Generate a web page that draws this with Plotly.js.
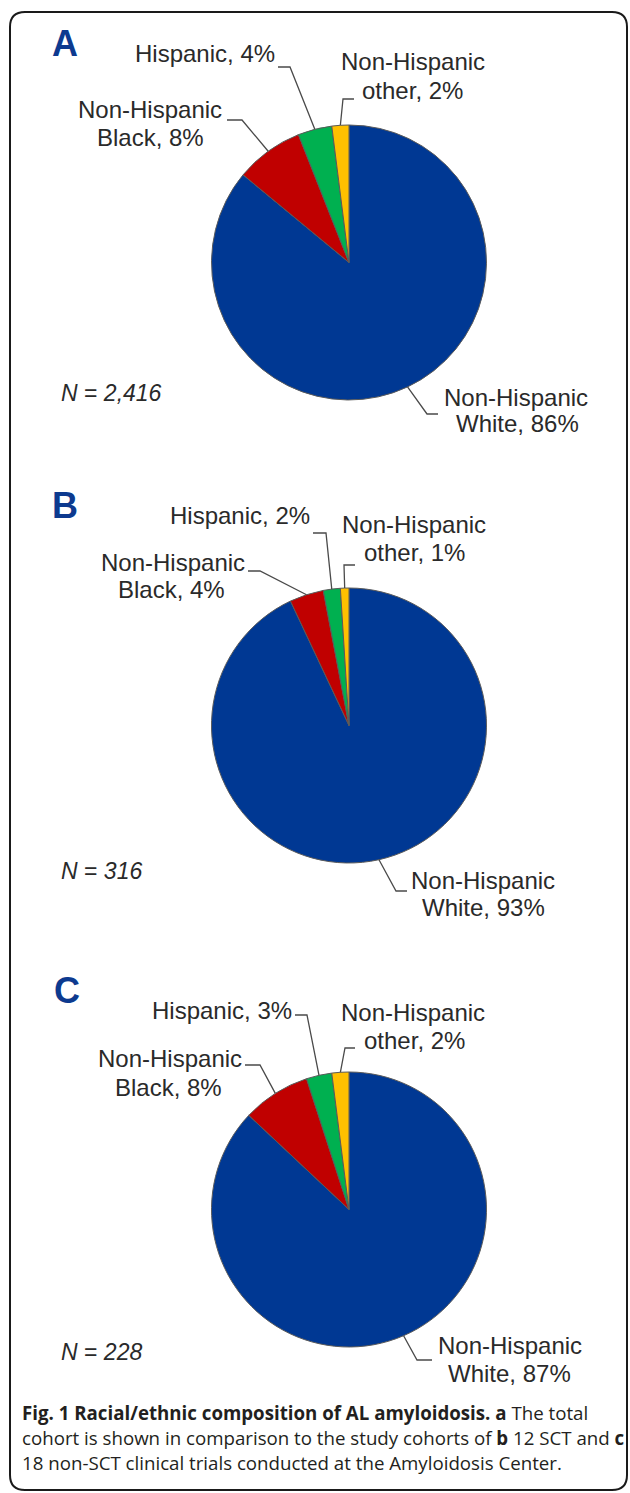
<!DOCTYPE html>
<html><head><meta charset="utf-8">
<script src="https://cdn.plot.ly/plotly-3.0.1.min.js"></script>
<style>html,body{margin:0;padding:0;background:#fff}</style>
</head><body><div id="chart" style="width:630px;height:1493px"></div>
<script>
// ---- data ----
const groups = ["Non-Hispanic White","Non-Hispanic Black","Hispanic","Non-Hispanic other"];
const labelLines = [["Non-Hispanic","White"],["Non-Hispanic","Black"],["Hispanic"],["Non-Hispanic","other"]];
const panelLetters = ["A","B","C"];
const cohortN = ["2,416","316","228"];
const valuesA = [86,8,4,2];
const valuesB = [93,4,2,1];
const valuesC = [87,8,3,2];
const sliceColors = ["#003893","#C00000","#00B050","#FFC000"];
const captionLines = [
  "<b>Fig. 1 Racial/ethnic composition of AL amyloidosis.</b> <b>a</b> The total",
  "cohort is shown in comparison to the study cohorts of <b>b</b> 12 SCT and <b>c</b>",
  "18 non-SCT clinical trials conducted at the Amyloidosis Center."
];

// ---- layout (pixels) ----
const W=630, H=1493;
const px = x => x/W, py = y => 1 - y/H;
const panels = [
 {values:valuesA, cx:349, cy:262.5, r:137.5, letter:[65,43], n:[59,393],
  labels:[ {lines:[[516,397],[517,423]], bend:[427,414], end:[438,414]},
           {lines:[[150,110],[150,137]], bend:[242,120], end:[227,120]},
           {lines:[[205,53]], bend:[290,67], end:[278,67]},
           {lines:[[413,62],[412,90]], bend:[343,99], end:[354,99]} ]},
 {values:valuesB, cx:349, cy:725.5, r:137.5, letter:[65,505], n:[59,871],
  labels:[ {lines:[[483,880],[483,907]], bend:[396,891], end:[407,891]},
           {lines:[[173,562],[172,590]], bend:[260,571], end:[248,571]},
           {lines:[[240,515]], bend:[326,533], end:[313,533]},
           {lines:[[414,525],[414,552]], bend:[344,565], end:[355,565]} ]},
 {values:valuesC, cx:349, cy:1209.5, r:137.5, letter:[67,990], n:[59,1352],
  labels:[ {lines:[[510,1345],[509,1373]], bend:[417,1360], end:[432,1360]},
           {lines:[[170,1058],[168,1087]], bend:[260,1065], end:[245,1065]},
           {lines:[[222,1010]], bend:[307,1015], end:[295,1015]},
           {lines:[[413,1013],[414,1040]], bend:[345,1048], end:[355,1048]} ]}
];

const labelFont = {family:"Liberation Sans, Arial, sans-serif", size:24, color:"#2a2a2a"};
const traces = [], annotations = [], shapes = [];

panels.forEach((p, i) => {
  traces.push({
    type:'pie', values:p.values, labels:groups, sort:false, direction:'clockwise', rotation:0,
    textinfo:'none', hoverinfo:'label+percent', showlegend:false,
    marker:{colors:sliceColors, line:{color:'#5a5a5a', width:1}},
    domain:{x:[px(p.cx-p.r), px(p.cx+p.r)], y:[py(p.cy+p.r), py(p.cy-p.r)]}
  });
  const total = p.values.reduce((a,b)=>a+b,0);
  let cum = 0;
  p.values.forEach((v, k) => {
    const th = 2*Math.PI*(cum + v/2)/total; cum += v;
    const ex = p.cx + p.r*Math.sin(th), ey = p.cy - p.r*Math.cos(th);
    const L = p.labels[k];
    shapes.push({type:'path', xref:'paper', yref:'paper',
      path:`M ${px(L.end[0])} ${py(L.end[1])} L ${px(L.bend[0])} ${py(L.bend[1])} L ${px(ex)} ${py(ey)}`,
      line:{color:'#4a4a4a', width:1.3}});
    const lines = labelLines[k].slice();
    lines[lines.length-1] = lines[lines.length-1] + ", " + v + "%";
    lines.forEach((t, j) => {
      annotations.push({xref:'paper', yref:'paper', x:px(L.lines[j][0]), y:py(L.lines[j][1]),
        xanchor:'center', yanchor:'middle', text:t, showarrow:false, font:labelFont});
    });
  });
  annotations.push({xref:'paper', yref:'paper', x:px(p.letter[0]), y:py(p.letter[1]),
    xanchor:'center', yanchor:'middle', text:'<b>'+panelLetters[i]+'</b>', showarrow:false,
    font:{family:"Liberation Sans, Arial, sans-serif", size:36, color:"#0d3a8f"}});
  annotations.push({xref:'paper', yref:'paper', x:px(p.n[0]), y:py(p.n[1]),
    xanchor:'left', yanchor:'middle', text:'<i>N</i> = <i>'+cohortN[i]+'</i>', showarrow:false,
    font:{family:"Liberation Sans, Arial, sans-serif", size:23, color:"#2a2a2a"}});
});

captionLines.forEach((t, j) => {
  annotations.push({xref:'paper', yref:'paper', x:px(20), y:py(1412 + 25*j),
    xanchor:'left', yanchor:'middle', text:t, showarrow:false,
    font:{family:"Open Sans, sans-serif", size:18.7, color:"#231f20"}});
});

// rounded frame
(function(){
  const x0=10, y0=12, x1=627, y1=1490, rr=15;
  const P = (x,y) => `${px(x)} ${py(y)}`;
  shapes.push({type:'path', xref:'paper', yref:'paper', line:{color:'#1a1a1a', width:2},
    path:`M ${P(x0+rr,y0)} L ${P(x1-rr,y0)} Q ${P(x1,y0)} ${P(x1,y0+rr)} L ${P(x1,y1-rr)} Q ${P(x1,y1)} ${P(x1-rr,y1)} L ${P(x0+rr,y1)} Q ${P(x0,y1)} ${P(x0,y1-rr)} L ${P(x0,y0+rr)} Q ${P(x0,y0)} ${P(x0+rr,y0)} Z`});
})();

Plotly.newPlot('chart', traces, {
  width:W, height:H, margin:{l:0,r:0,t:0,b:0}, paper_bgcolor:'#fff', plot_bgcolor:'#fff',
  annotations, shapes
}, {displayModeBar:false, staticPlot:true});
</script></body></html>
